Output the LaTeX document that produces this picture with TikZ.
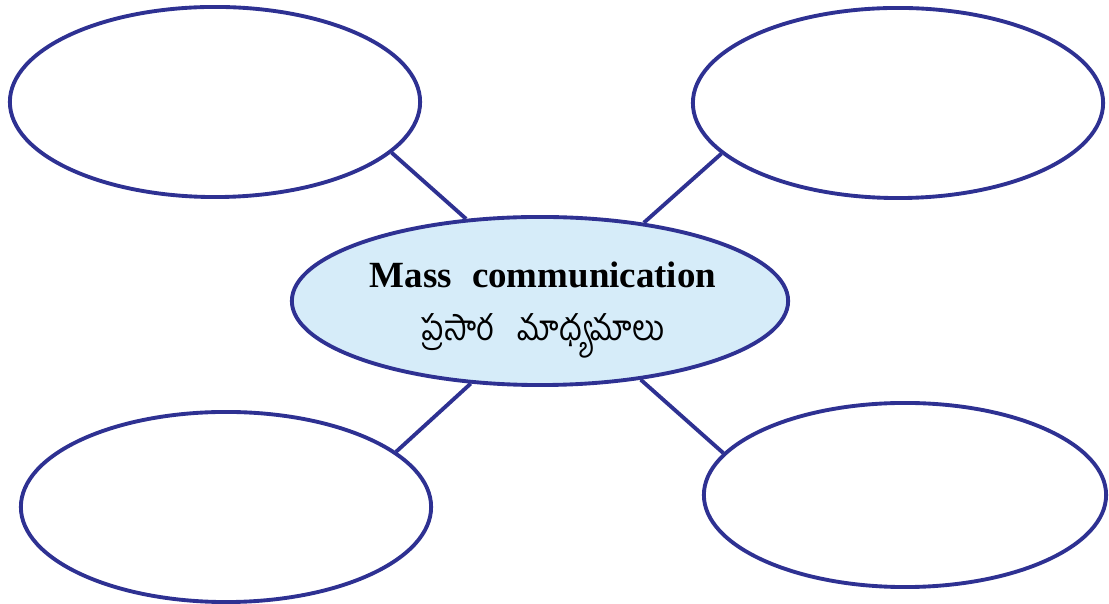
\documentclass[tikz,border=0pt]{standalone}
\usepackage{fontspec}
\setmainfont{Liberation Serif}
\newfontfamily\telugufont[Script=Telugu, FakeStretch=0.88]{Hind Guntur}
\usetikzlibrary{shapes.geometric}
\definecolor{mcblue}{RGB}{46,49,146}
\definecolor{mcfill}{RGB}{214,236,249}

\begin{document}
\begin{tikzpicture}[x=0.01cm, y=-0.01cm,
    bubble/.style={ellipse, draw=mcblue, line width=1.1pt, inner sep=0pt,
        minimum width=4.1cm, minimum height=1.9cm},
    hub/.style={bubble, fill=mcfill, minimum width=4.96cm, minimum height=1.68cm},
    link/.style={draw=mcblue, line width=1.1pt}]
    \useasboundingbox (0,0) rectangle (1109,604);

    \node[bubble] (tl) at (215,102) {};
    \node[bubble] (tr) at (898,103) {};
    \node[bubble] (bl) at (226,507) {};
    \node[bubble, minimum width=4.02cm, minimum height=1.84cm] (br) at (905,495) {};

    \node[hub] (mc) at (540,301) {};
    \node[align=center, inner sep=0pt] (mctext) at (543,310) {%
        {\bfseries\fontsize{10.5}{15}\selectfont Mass\hspace{0.55em}communication}\\[3pt]
        {\telugufont\fontsize{10}{15}\selectfont ప్రసార\hspace{0.7em}మాధ్యమాలు}};

    \foreach \n/\a/\b in {tl/-16/132, tr/196/37, bl/18/230, br/167/-38}
        \draw[link] (\n.\a) -- (mc.\b);
\end{tikzpicture}
\end{document}
